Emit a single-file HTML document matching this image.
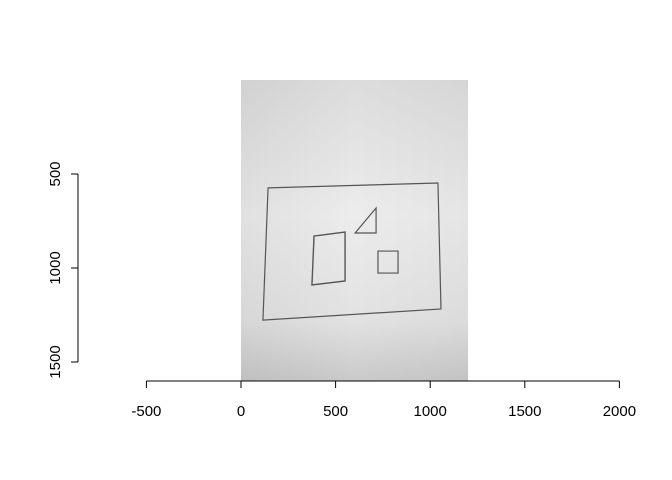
<!DOCTYPE html>
<html><head><meta charset="utf-8"><style>
body{margin:0;background:#fff;}
svg{display:block;font-family:"Liberation Sans",Arial,sans-serif;}
</style></head><body>
<svg id="chart" width="672" height="480">
<defs>
<linearGradient id="bg" x1="0" y1="0" x2="0" y2="1">
<stop offset="0" stop-color="#dcdcdc"/><stop offset="0.45" stop-color="#ececec"/><stop offset="0.8" stop-color="#e2e2e2"/><stop offset="1" stop-color="#c9c9c9"/>
</linearGradient>
<linearGradient id="bgx" x1="0" y1="0" x2="1" y2="0">
<stop offset="0" stop-color="#000" stop-opacity="0.05"/><stop offset="0.5" stop-color="#000" stop-opacity="0"/><stop offset="1" stop-color="#000" stop-opacity="0.03"/>
</linearGradient>
</defs>
<g id="img"></g><g id="axes"></g>
</svg>
<script>
const xTicks=[-500,0,500,1000,1500,2000];
const yTicks=[500,1000,1500];
const imgExtent=[0,1200,0,1600];
const outerFrame=[[143,574],[1041,548],[1057,1218],[116,1277]];
const innerRect=[[386,830],[550,809],[550,1069],[375,1090]];
const triangle=[[603,814],[714,681],[714,814]];
const smallSquare=[[724,910],[830,910],[830,1027],[724,1027]];
const NS="http://www.w3.org/2000/svg";
const sx=v=>241+(v)*0.1892;
const sy=v=>80+(v)*0.188;
function mk(t,a,p){const e=document.createElementNS(NS,t);for(const k in a)e.setAttribute(k,a[k]);p.appendChild(e);return e;}
const img=document.getElementById('img'),ax=document.getElementById('axes');
let r=mk('rect',{x:sx(imgExtent[0]),y:sy(imgExtent[2]),width:sx(imgExtent[1])-sx(imgExtent[0]),height:sy(imgExtent[3])-sy(imgExtent[2]),fill:'url(#bg)'},img);


let r2=mk('rect',{x:sx(imgExtent[0]),y:sy(imgExtent[2]),width:sx(imgExtent[1])-sx(imgExtent[0]),height:sy(imgExtent[3])-sy(imgExtent[2]),fill:'url(#bgx)'},img);


function poly(pts,name,w){const p=mk('polygon',{points:pts.map(q=>sx(q[0])+','+sy(q[1])).join(' '),fill:'none',stroke:'#555',"stroke-width":w||1.2},img);

}
poly(outerFrame,'sketch-outer-frame');
poly(innerRect,'sketch-inner-rectangle',1.4);
poly(triangle,'sketch-triangle');
poly(smallSquare,'sketch-small-square');
let xl=mk('line',{x1:sx(xTicks[0]),x2:sx(xTicks[xTicks.length-1]),y1:381,y2:381,stroke:'#000'},ax);


xTicks.forEach(v=>{mk('line',{x1:sx(v),x2:sx(v),y1:381,y2:388,stroke:'#000'},ax);
const t=mk('text',{x:sx(v),y:416,'text-anchor':'middle','font-size':15},ax);t.textContent=v;

});
let yl=mk('line',{x1:78,x2:78,y1:sy(yTicks[0]),y2:sy(yTicks[yTicks.length-1]),stroke:'#000'},ax);


yTicks.forEach(v=>{mk('line',{x1:71,x2:78,y1:sy(v),y2:sy(v),stroke:'#000'},ax);
const t=mk('text',{x:60,y:sy(v),'text-anchor':'middle','font-size':15,transform:`rotate(-90 60 ${sy(v)})`},ax);t.textContent=v;

});
</script>
</body></html>
